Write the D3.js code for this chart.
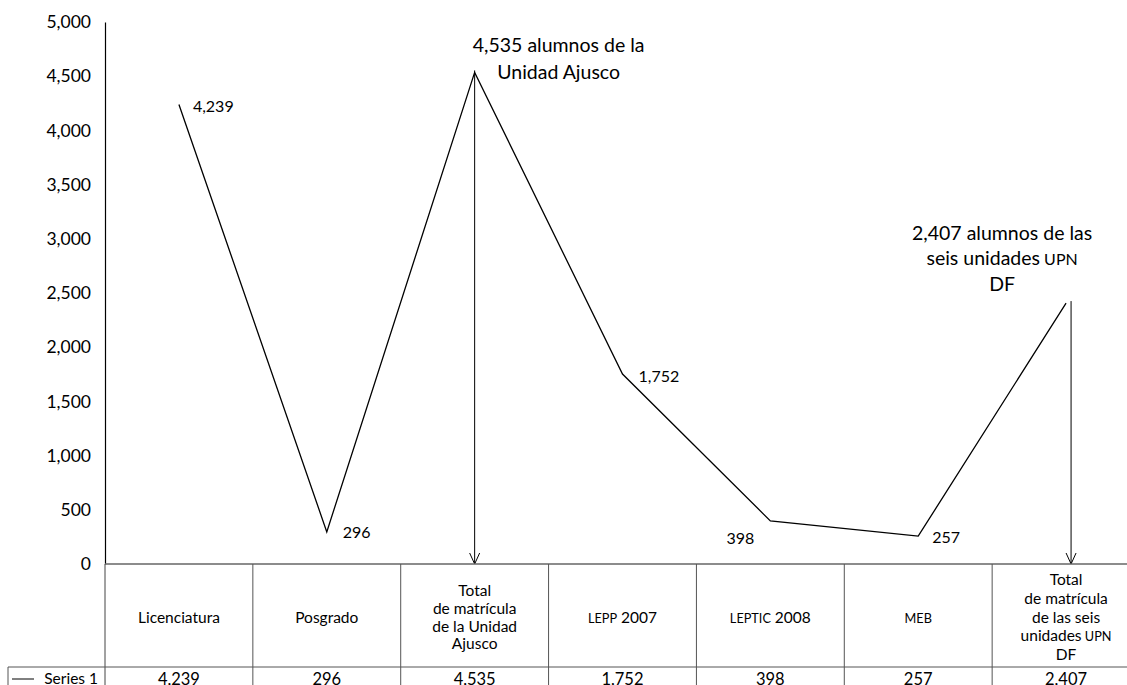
<!DOCTYPE html>
<html>
<head>
<meta charset="utf-8">
<script src="https://cdn.jsdelivr.net/npm/d3@7"></script>
<style>
  body { margin: 0; background: #fff; }
  svg { font-family: Lato, "Noto Sans", sans-serif; }
</style>
</head>
<body>
<script>
// categories (header lines) and the single series
const categories = [
  ["Licenciatura"],
  ["Posgrado"],
  ["Total", "de matrícula", "de la Unidad", "Ajusco"],
  ["LEPP 2007"],
  ["LEPTIC 2008"],
  ["MEB"],
  ["Total", "de matrícula", "de las seis", "unidades UPN", "DF"]
];
const values = [4239, 296, 4535, 1752, 398, 257, 2407];
const yTicks = [0, 500, 1000, 1500, 2000, 2500, 3000, 3500, 4000, 4500, 5000];
const seriesName = "Series 1";
const smallCaps = ["LEPP", "LEPTIC", "MEB", "UPN"];

// callouts on the two totals
const callouts = [
  { index: 2, lines: ["4,535 alumnos de la", "Unidad Ajusco"] },
  { index: 6, lines: ["2,407 alumnos de las", "seis unidades UPN", "DF"] }
];

const W = 1127, H = 685;
const fmt = d3.format(",");

const svg = d3.select("body").append("svg")
  .attr("width", W)
  .attr("height", H);

const x = d3.scaleBand()
  .domain(d3.range(values.length))
  .range([105, 1140]);

const y = d3.scaleLinear()
  .domain([0, 5000])
  .range([564, 22]);

const cx = i => x(i) + x.bandwidth() / 2;

// write a line of text, shrinking the small-caps words
function caps(sel, line, size) {
  line.split(" ").forEach((w, k) => {
    sel.append("tspan")
      .style("font-size", smallCaps.includes(w) ? (size * 0.82) + "px" : size + "px")
      .text((k ? " " : "") + w);
  });
}

// y axis
const yAxis = svg.append("g")
  .attr("transform", "translate(105,0)")
  .call(d3.axisLeft(y).tickValues(yTicks).tickFormat(fmt).tickSize(0).tickPadding(14));
yAxis.select(".domain").attr("stroke", "#000").attr("stroke-width", 1.2);
yAxis.selectAll("text")
  .style("font-size", "17.5px")
  .style("font-family", "Lato, sans-serif")
  .attr("fill", "#000");

svg.append("line")
  .attr("x1", 105).attr("x2", 105)
  .attr("y1", y(0)).attr("y2", H)
  .attr("stroke", "#444");

// the series line
const line = d3.line()
  .x((d, i) => cx(i))
  .y(d => y(d));

svg.append("path")
  .datum(values)
  .attr("fill", "none")
  .attr("stroke", "#000")
  .attr("stroke-width", 1.3)
  .attr("d", line);

// data labels
const labelPos = [
  { dx: 14, dy: 2, anchor: "start" },
  { dx: 16, dy: 0, anchor: "start" },
  null,
  { dx: 16, dy: 2, anchor: "start" },
  { dx: -16, dy: 18, anchor: "end" },
  { dx: 14, dy: 1, anchor: "start" },
  null
];
svg.append("g").selectAll("text")
  .data(values.map((v, i) => ({ v, i })).filter(d => labelPos[d.i]))
  .join("text")
  .attr("x", d => cx(d.i) + labelPos[d.i].dx)
  .attr("y", d => y(d.v) + labelPos[d.i].dy)
  .attr("dy", "0.35em")
  .attr("text-anchor", d => labelPos[d.i].anchor)
  .style("font-size", "16px")
  .attr("fill", "#000")
  .text(d => fmt(d.v));

// callouts with arrows down to the axis
const arrows = svg.append("g").attr("stroke", "#000").attr("fill", "none");
callouts.forEach(c => {
  const ax = cx(c.index) + (c.index === 6 ? 5 : 0);
  arrows.append("line")
    .attr("x1", ax).attr("x2", ax)
    .attr("y1", y(values[c.index]) - 2).attr("y2", y(0))
    .attr("stroke-width", 1);
  arrows.append("path")
    .attr("d", `M${ax - 5},${y(0) - 11} L${ax},${y(0)} L${ax + 5},${y(0) - 11}`)
    .attr("stroke-width", 1);
});

const calloutPos = [
  { dx: 84, y0: y(values[2]) - 26, step: 27 },
  { dx: -64, y0: y(values[6]) - 69, step: 25.5 }
];
callouts.forEach((c, k) => {
  const p = calloutPos[k];
  c.lines.forEach((ln, j) => {
    const t = svg.append("text")
      .attr("x", cx(c.index) + p.dx)
      .attr("y", p.y0 + j * p.step)
      .attr("dy", "0.35em")
      .attr("text-anchor", "middle")
      .attr("fill", "#000");
    caps(t, ln, 19.5);
  });
});

// data table under the chart
const tbl = svg.append("g").attr("stroke", "#555").attr("stroke-width", 1);
tbl.append("line")
  .attr("x1", 105).attr("x2", W)
  .attr("y1", y(0)).attr("y2", y(0))
  .attr("stroke", "#666").attr("stroke-width", 1.5);
tbl.append("line")
  .attr("x1", 8).attr("x2", W)
  .attr("y1", 667).attr("y2", 667);
tbl.append("line")
  .attr("x1", 8).attr("x2", 8)
  .attr("y1", 667).attr("y2", H);
tbl.selectAll("line.col")
  .data(d3.range(1, values.length))
  .join("line")
  .attr("class", "col")
  .attr("x1", d => x(d)).attr("x2", d => x(d))
  .attr("y1", y(0)).attr("y2", H);

const headerMid = 617;
categories.forEach((lines, i) => {
  const step = lines.length > 4 ? 18.8 : 17.8;
  lines.forEach((ln, j) => {
    const t = svg.append("text")
      .attr("x", cx(i))
      .attr("y", headerMid + (j - (lines.length - 1) / 2) * step)
      .attr("dy", "0.35em")
      .attr("text-anchor", "middle")
      .attr("fill", "#000");
    caps(t, ln, 15.5);
  });
});

svg.append("g").selectAll("text")
  .data(values)
  .join("text")
  .attr("x", (d, i) => cx(i))
  .attr("y", 685)
  .attr("text-anchor", "middle")
  .style("font-size", "16.5px")
  .attr("fill", "#000")
  .text(d => fmt(d));

// legend cell
svg.append("line")
  .attr("x1", 12).attr("x2", 34)
  .attr("y1", 679).attr("y2", 679)
  .attr("stroke", "#000");
svg.append("text")
  .attr("x", 98)
  .attr("y", 684)
  .attr("text-anchor", "end")
  .style("font-size", "15.5px")
  .attr("fill", "#000")
  .text(seriesName);
</script>
</body>
</html>
